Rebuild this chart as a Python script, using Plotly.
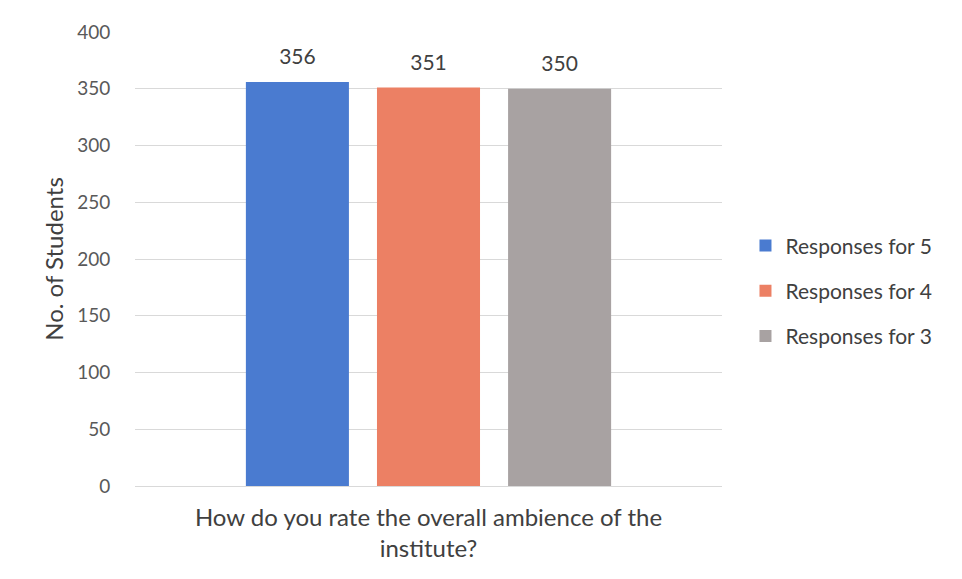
import plotly.graph_objects as go

categories = ["How do you rate the overall ambience of the<br>institute?"]
series_names = ["Responses for 5", "Responses for 4", "Responses for 3"]
series_values = [[356], [351], [350]]
colors = ["#4A7BD0", "#EC8064", "#A8A2A2"]
y_ticks = [0, 50, 100, 150, 200, 250, 300, 350, 400]

fig = go.Figure()
for name, vals, col in zip(series_names, series_values, colors):
    fig.add_trace(go.Bar(
        name=name, x=categories, y=vals, marker_color=col,
        marker_line_width=0, legendgroup=name,
        text=vals,
        texttemplate="<span style='font-size:21px'>%{y}</span><br> ",
        textposition="outside",
        textfont=dict(size=10, color="#404040", family="Lato"),
        cliponaxis=False,
    ))

fig.update_layout(
    width=962, height=579,
    margin=dict(l=127, r=248, t=24, b=101, autoexpand=False),
    paper_bgcolor="white", plot_bgcolor="white",
    barmode="group", bargap=0.33, bargroupgap=0.214,
    font=dict(family="Lato", color="#595959"),
    uniformtext=dict(mode=False),
    legend=dict(x=1.04, xanchor="left", y=0.43, yanchor="middle",
                font=dict(size=21, color="#404040"), tracegroupgap=15,
                itemsizing="constant", itemwidth=30),
    xaxis=dict(tickfont=dict(size=24, color="#404040"), showline=True,
               linecolor="#D9D9D9", ticks="", ticklabelstandoff=10),
    yaxis=dict(range=[0, 400], tickvals=y_ticks, showgrid=True,
               gridcolor="#D9D9D9", zeroline=False,
               tickfont=dict(size=19, color="#595959"),
               title=dict(text="No. of Students", font=dict(size=24, color="#404040"), standoff=6),
               ticks="outside", ticklen=20, tickcolor="white"),
)

fig.write_html("out.html")
